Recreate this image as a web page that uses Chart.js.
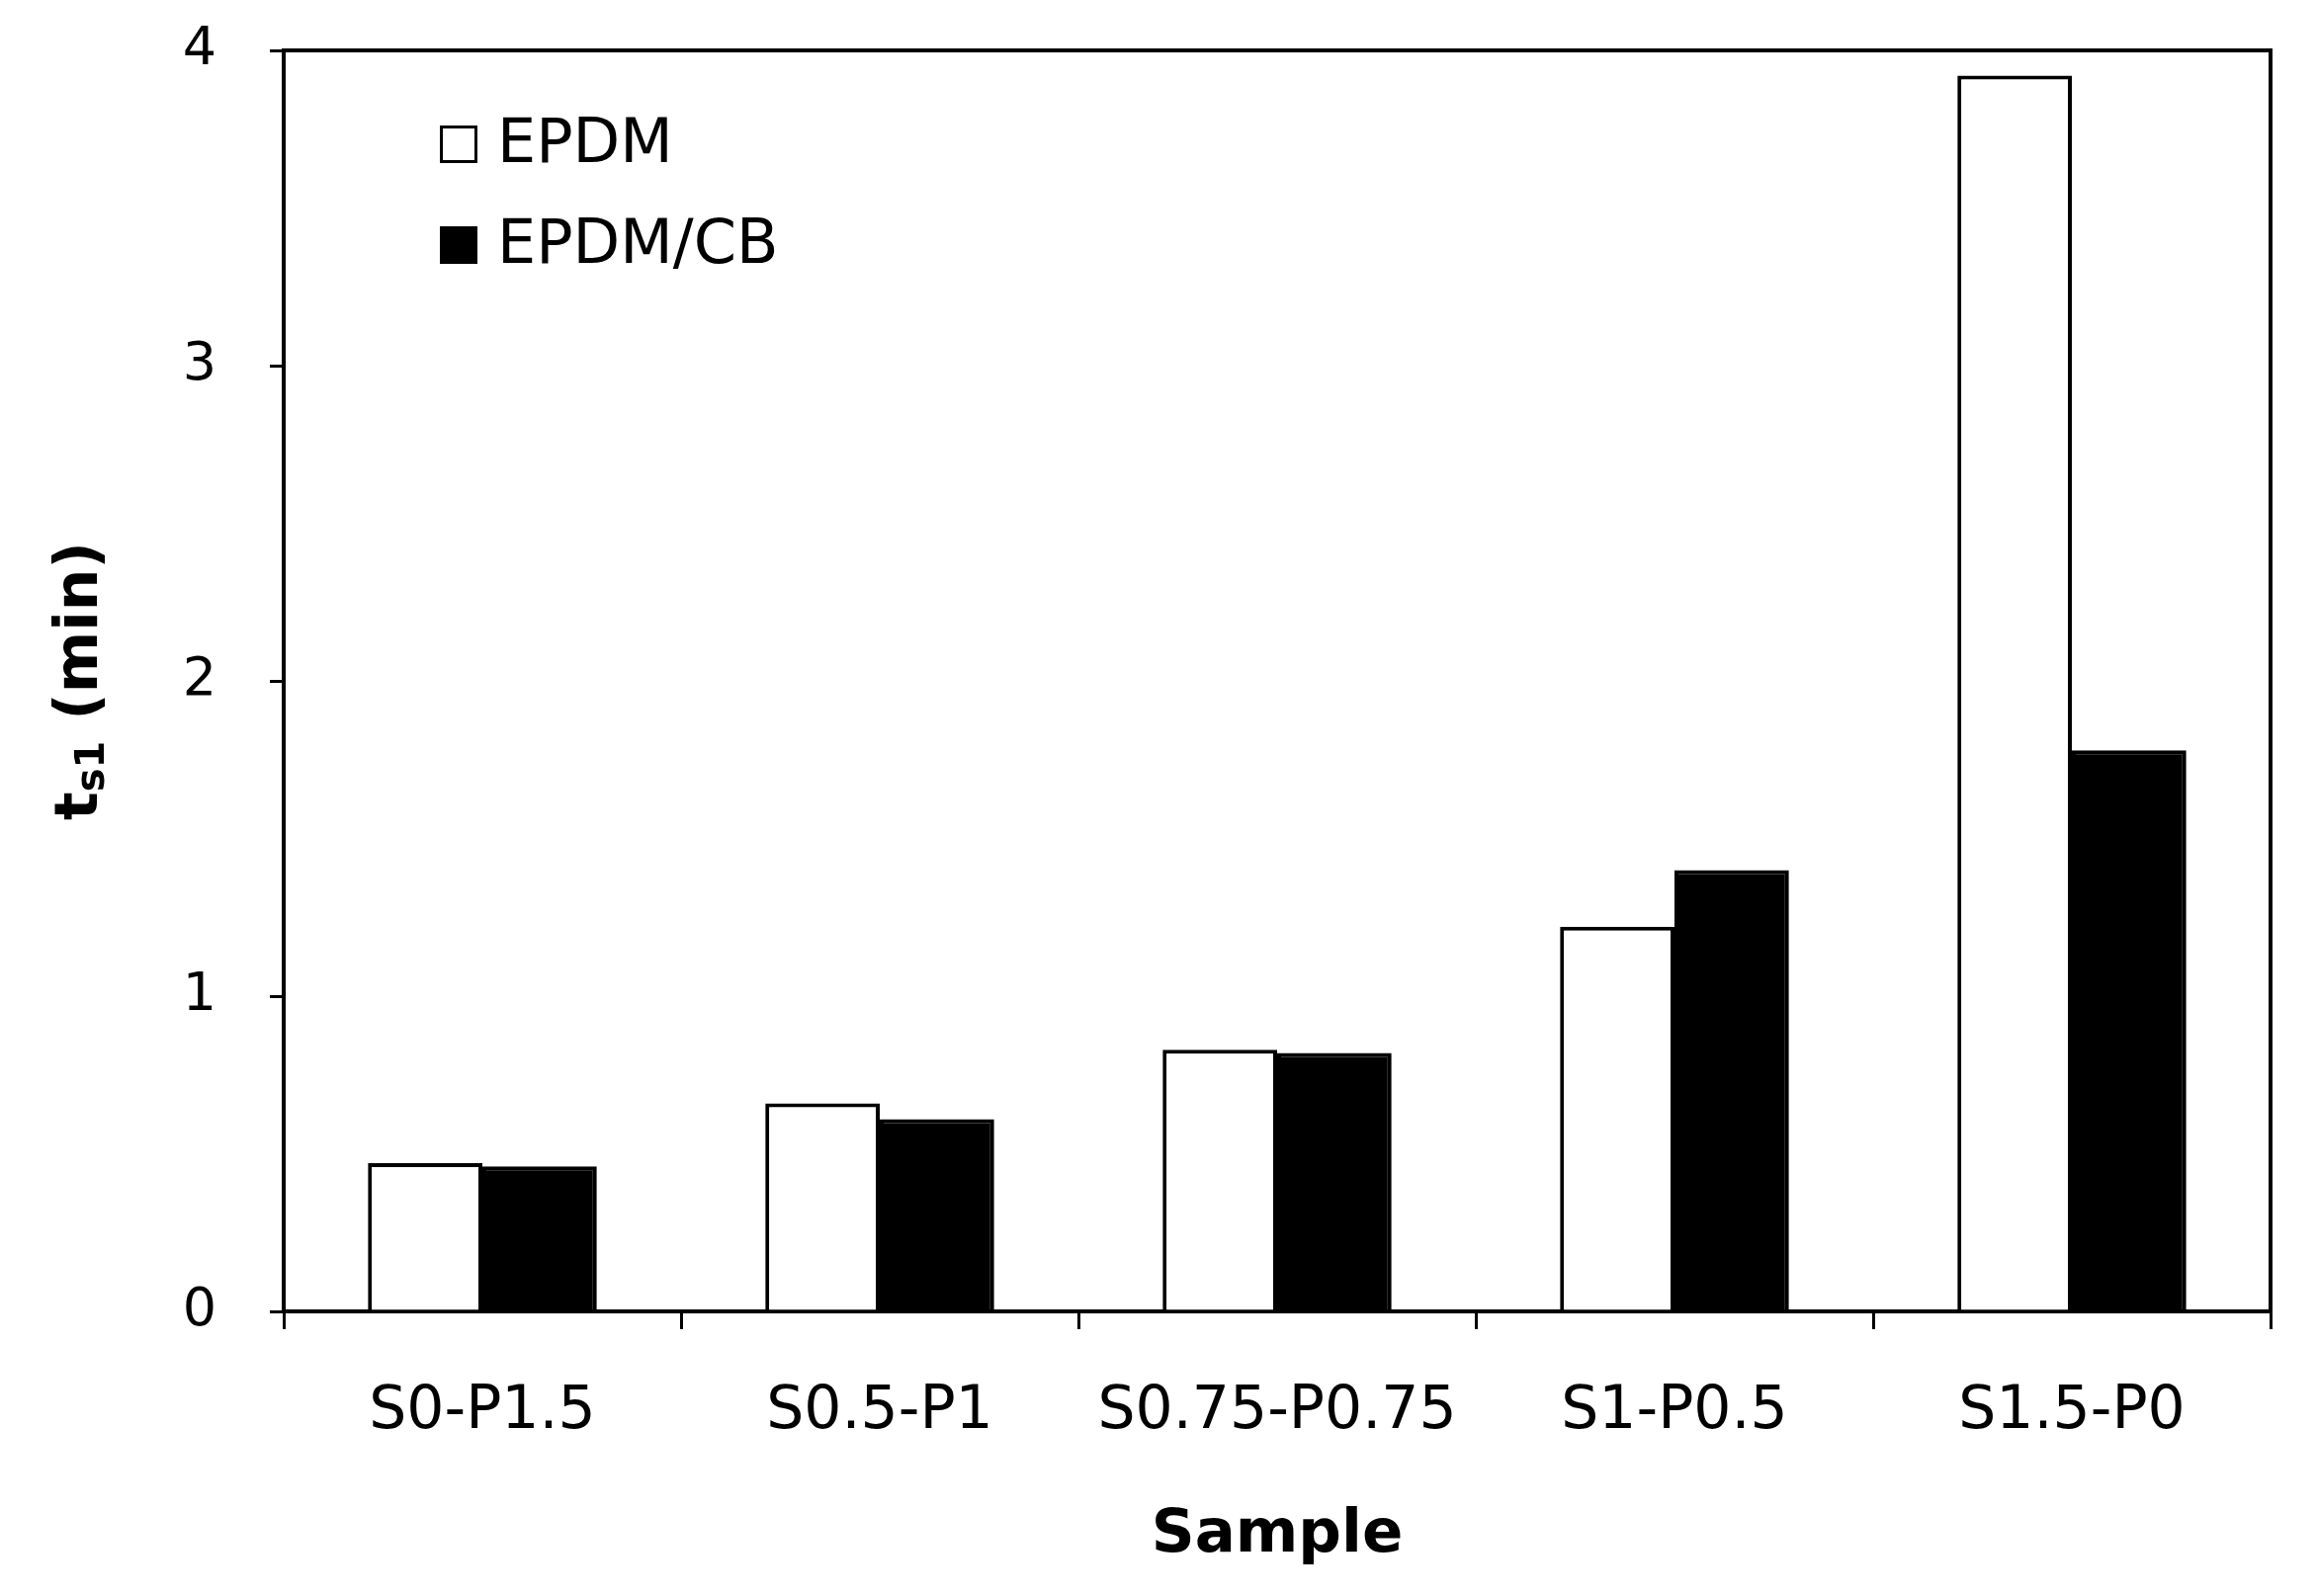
<!DOCTYPE html>
<html>
<head>
<meta charset="utf-8">
<script src="https://cdn.jsdelivr.net/npm/chart.js@4.4.1/dist/chart.umd.min.js"></script>
<style>
  html, body { margin: 0; padding: 0; background: #fff; }
</style>
</head>
<body>
<canvas id="chart" width="2343" height="1615"></canvas>
<script>
const samples = ["S0-P1.5", "S0.5-P1", "S0.75-P0.75", "S1-P0.5", "S1.5-P0"];
const epdm = [0.47, 0.66, 0.83, 1.22, 3.92];
const epdmCb = [0.46, 0.61, 0.82, 1.40, 1.78];
const yTicks = [0, 1, 2, 3, 4];
const seriesNames = ["EPDM", "EPDM/CB"];

const FONT = "'DejaVu Sans', sans-serif";

// frame on top/right of the plot area
const framePlugin = {
  id: "frame",
  afterDatasetsDraw(chart) {
    const { ctx, chartArea: a } = chart;
    ctx.save();
    ctx.strokeStyle = "#000";
    ctx.lineWidth = 4;
    ctx.beginPath();
    ctx.moveTo(a.left, a.top);
    ctx.lineTo(a.right, a.top);
    ctx.lineTo(a.right, a.bottom);
    ctx.stroke();
    ctx.restore();
  },
};

// legend inside the plot, stacked vertically
const innerLegend = {
  id: "innerLegend",
  afterDraw(chart) {
    const { ctx, chartArea: a } = chart;
    ctx.save();
    ctx.font = `62px ${FONT}`;
    ctx.textBaseline = "middle";
    chart.data.datasets.forEach((ds, i) => {
      const x = a.left + 158;
      const cy = a.top + 95 + i * 102;
      ctx.fillStyle = ds.backgroundColor;
      ctx.fillRect(x, cy - 19, 38, 38);
      ctx.strokeStyle = "#000";
      ctx.lineWidth = 3;
      ctx.strokeRect(x + 1.5, cy - 17.5, 35, 35);
      ctx.fillStyle = "#000";
      ctx.fillText(ds.label, x + 58, cy + 2);
    });
    ctx.restore();
  },
};

// axis titles (y title has a subscript)
const axisTitles = {
  id: "axisTitles",
  afterDraw(chart) {
    const { ctx, chartArea: a } = chart;
    ctx.save();
    ctx.fillStyle = "#000";
    ctx.textBaseline = "middle";
    ctx.textAlign = "center";
    ctx.font = `bold 61px ${FONT}`;
    ctx.fillText("Sample", (a.left + a.right) / 2, 1554);

    ctx.translate(82, (a.top + a.bottom) / 2);
    ctx.rotate(-Math.PI / 2);
    const big = `bold 60px ${FONT}`;
    const small = `bold 40px ${FONT}`;
    ctx.font = big;
    const w1 = ctx.measureText("t").width;
    const w3 = ctx.measureText(" (min)").width;
    ctx.font = small;
    const w2 = ctx.measureText("s1").width;
    let x = -(w1 + w2 + w3) / 2;
    ctx.textAlign = "left";
    ctx.font = big;
    ctx.fillText("t", x, 0);
    x += w1;
    ctx.font = small;
    ctx.fillText("s1", x, 13);
    x += w2;
    ctx.font = big;
    ctx.fillText(" (min)", x, 0);
    ctx.restore();
  },
};

new Chart(document.getElementById("chart"), {
  type: "bar",
  data: {
    labels: samples,
    datasets: [
      {
        label: seriesNames[0],
        data: epdm,
        backgroundColor: "#ffffff",
        borderColor: "#000000",
        borderWidth: 4,
      },
      {
        label: seriesNames[1],
        data: epdmCb,
        backgroundColor: "#000000",
        borderColor: "#000000",
        borderWidth: 4,
      },
    ],
  },
  options: {
    responsive: false,
    animation: false,
    layout: { padding: { top: 51, right: 46, left: 0, bottom: 0 } },
    datasets: { bar: { categoryPercentage: 0.576, barPercentage: 1.0 } },
    plugins: { legend: { display: false }, tooltip: { enabled: false } },
    scales: {
      x: {
        grid: {
          display: true,
          drawOnChartArea: false,
          drawTicks: true,
          tickLength: 18,
          color: "#000",
          lineWidth: 3,
        },
        border: { color: "#000", width: 4 },
        ticks: { color: "#000", font: { family: FONT, size: 60 }, padding: 48, maxRotation: 0 },
        afterFit(s) {
          s.height = 288;
          s.paddingLeft = 0;
          s.paddingRight = 0;
        },
      },
      y: {
        min: 0,
        max: 4,
        afterBuildTicks(s) { s.ticks = yTicks.map((v) => ({ value: v })); },
        grid: {
          display: true,
          drawOnChartArea: false,
          drawTicks: true,
          tickLength: 14,
          color: "#000",
          lineWidth: 3,
        },
        border: { color: "#000", width: 4 },
        ticks: { color: "#000", font: { family: FONT, size: 54 }, padding: 54 },
        afterFit(s) {
          s.width = 287;
          s.paddingTop = 0;
          s.paddingBottom = 0;
        },
      },
    },
  },
  plugins: [framePlugin, innerLegend, axisTitles],
});
</script>
</body>
</html>
